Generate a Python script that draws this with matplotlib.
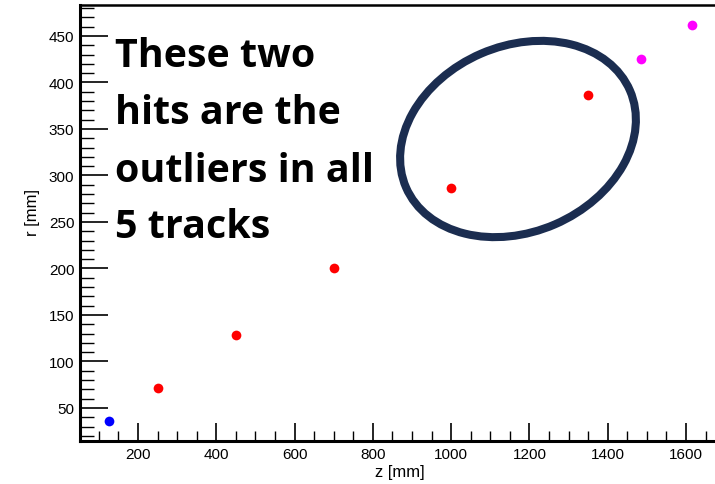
import matplotlib
matplotlib.use("Agg")
import matplotlib.pyplot as plt
from matplotlib.patches import Ellipse
from matplotlib.transforms import IdentityTransform
from matplotlib.ticker import MultipleLocator

# hit positions (z, r) in mm, grouped by detector
z_inner = [125]
r_inner = [36]
z_mid = [250, 450, 700, 1000, 1350]
r_mid = [72, 129, 200, 286, 386]
z_outer = [1485, 1615]
r_outer = [425, 462]

x_ticks = [200, 400, 600, 800, 1000, 1200, 1400, 1600]
y_ticks = [50, 100, 150, 200, 250, 300, 350, 400, 450]

note_lines = ["These two", "hits are the", "outliers in all", "5 tracks"]

W, H = 715, 485
fig = plt.figure(figsize=(W / 100, H / 100), dpi=100)
ax = fig.add_axes([80 / W, 43 / H, 640 / W, 436 / H])

ax.set_xlim(51.8, 1687)
ax.set_ylim(14.5, 483.3)

ms = 7
ax.plot(z_inner, r_inner, "o", color="#0000ff", ms=ms, mec="none")
ax.plot(z_mid, r_mid, "o", color="#ff0000", ms=ms, mec="none")
ax.plot(z_outer, r_outer, "o", color="#ff00ff", ms=ms, mec="none")

ax.set_xticks(x_ticks)
ax.set_yticks(y_ticks)
ax.xaxis.set_minor_locator(MultipleLocator(50))
ax.yaxis.set_minor_locator(MultipleLocator(10))
ax.tick_params(axis="x", which="major", direction="in", length=13, width=1.2,
               labelsize=11, pad=4)
ax.tick_params(axis="x", which="minor", direction="in", length=7, width=1.0)
ax.tick_params(axis="y", which="major", direction="in", length=20, width=1.2,
               labelsize=11, pad=4)
ax.tick_params(axis="y", which="minor", direction="in", length=10, width=1.0)
for lab in ax.get_xticklabels() + ax.get_yticklabels():
    lab.set_family("Liberation Sans")

ax.spines["right"].set_visible(False)
ax.spines["left"].set_linewidth(2.2)
ax.spines["bottom"].set_linewidth(2.2)
ax.spines["top"].set_linewidth(1.8)

fig.text(400 / W, 1 - 473 / H, "z [mm]", ha="center", va="center",
         fontsize=12, family="Liberation Sans")
fig.text(33 / W, 1 - 213 / H, "r [mm]", ha="center", va="center",
         rotation=90, fontsize=12, family="Liberation Sans")

# annotation text, one line per baseline
baselines = [67, 124, 182, 238]
for line, yb in zip(note_lines, baselines):
    fig.text(115 / W, 1 - yb / H, line, ha="left", va="baseline",
             fontsize=28.4, fontweight="bold", family="Open Sans")

# highlight ring around the two outlier hits (display pixels)
ring = Ellipse((518, H - 140), 244, 186, angle=23.4, fill=False,
               edgecolor="#1b2d50", linewidth=5.8, transform=IdentityTransform())
fig.add_artist(ring)

fig.savefig("out.png", dpi=100)
